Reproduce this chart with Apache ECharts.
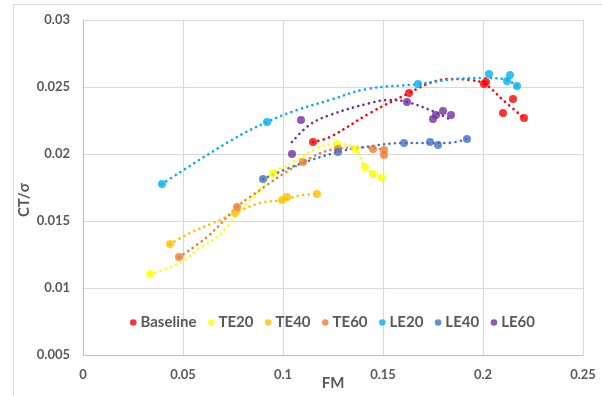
<!DOCTYPE html>
<html>
<head>
<meta charset="utf-8">
<script src="https://cdn.jsdelivr.net/npm/echarts@6/dist/echarts.min.js"></script>
<style>html,body{margin:0;padding:0;background:#fff}#c{width:602px;height:396px}</style>
</head>
<body>
<div id="c"></div>
<script>
// Legend / series names
const seriesNames = ['Baseline', 'TE20', 'TE40', 'TE60', 'LE20', 'LE40', 'LE60'];
const seriesColors = ['#FF0000', '#FFFF00', '#FFC000', '#ED7D31', '#00B0F0', '#4472C4', '#7030A0'];

// Measured points [FM, CT/sigma]
const baseline = [[0.115,0.0209],[0.163,0.02455],[0.2005,0.02522],[0.2015,0.02537],[0.21,0.02306],[0.215,0.0241],[0.2205,0.02269]];
const te20 = [[0.0335,0.01104],[0.095,0.01858],[0.127,0.02075],[0.136,0.02037],[0.141,0.01903],[0.145,0.01851],[0.1495,0.01821]];
const te40 = [[0.0435,0.01328],[0.076,0.0156],[0.0995,0.01657],[0.102,0.01679],[0.117,0.01701]];
const te60 = [[0.048,0.01231],[0.077,0.01604],[0.11,0.0194],[0.1275,0.02037],[0.145,0.02037],[0.1505,0.0203],[0.1505,0.01993]];
const le20 = [[0.0395,0.01776],[0.092,0.02239],[0.1675,0.02522],[0.203,0.02597],[0.212,0.02545],[0.2135,0.0259],[0.217,0.02507]];
const le40 = [[0.09,0.01813],[0.1275,0.02015],[0.1605,0.02082],[0.1735,0.0209],[0.1775,0.02067],[0.192,0.02112]];
const le60 = [[0.109,0.02254],[0.1045,0.0200],[0.162,0.02388],[0.175,0.02261],[0.1765,0.02291],[0.18,0.02321],[0.184,0.02291]];

// Trendline points
const baselineTrend = [[0.115,0.0209],[0.1235,0.02127],[0.1435,0.02306],[0.163,0.02455],[0.1735,0.0253],[0.1835,0.0256],[0.1935,0.02552],[0.201,0.02522],[0.21,0.02403],[0.2205,0.02269]];
const te20Trend = [[0.0335,0.01104],[0.0485,0.01187],[0.057,0.01284],[0.067,0.01381],[0.0735,0.01485],[0.082,0.01634],[0.0885,0.01731],[0.095,0.01858],[0.107,0.01955],[0.117,0.02045],[0.127,0.02075],[0.136,0.02037],[0.141,0.01903],[0.145,0.01851],[0.1495,0.01821]];
const te40Trend = [[0.0435,0.01328],[0.0535,0.0141],[0.065,0.01485],[0.076,0.0156],[0.0885,0.01634],[0.0995,0.01657],[0.1085,0.0169],[0.117,0.01701]];
const te60Trend = [[0.048,0.01231],[0.062,0.01381],[0.077,0.01604],[0.0835,0.0168],[0.11,0.0194],[0.1275,0.0204],[0.142,0.0205],[0.1505,0.0203]];
const le20Trend = [[0.0395,0.01776],[0.0735,0.02097],[0.092,0.02239],[0.107,0.02328],[0.1235,0.02403],[0.142,0.02485],[0.1675,0.02522],[0.187,0.0256],[0.2,0.02567],[0.21,0.0256],[0.217,0.02507]];
const le40Trend = [[0.09,0.01813],[0.107,0.01918],[0.1275,0.02015],[0.141,0.02052],[0.1605,0.02082],[0.182,0.02082],[0.192,0.02112]];
const le60Trend = [[0.1045,0.0209],[0.1135,0.0222],[0.1235,0.02291],[0.1435,0.0238],[0.1535,0.02403],[0.162,0.02388],[0.1735,0.02328],[0.184,0.02254]];

// Axis ticks
const xTicks = [0, 0.05, 0.1, 0.15, 0.2, 0.25];
const yTicks = [0.005, 0.01, 0.015, 0.02, 0.025, 0.03];

const points = [baseline, te20, te40, te60, le20, le40, le60];
const trends = [baselineTrend, te20Trend, te40Trend, te60Trend, le20Trend, le40Trend, le60Trend];

const txt = '#595959';
const font = 'Lato, "Open Sans", sans-serif';

const series = [];
trends.forEach((t, i) => {
  series.push({
    name: seriesNames[i] + ' trend', type: 'line', data: t, smooth: 0.4,
    showSymbol: false, silent: true, z: 2,
    lineStyle: { color: seriesColors[i], width: 2.6, type: [0.1, 5.4], cap: 'round' }
  });
});
points.forEach((p, i) => {
  series.push({
    name: seriesNames[i], type: 'scatter', data: p, symbol: 'circle', symbolSize: 8, z: 3,
    itemStyle: { color: seriesColors[i] }
  });
});

const chart = echarts.init(document.getElementById('c'), null, { renderer: 'canvas' });
chart.setOption({
  animation: false,
  backgroundColor: '#fff',
  grid: { left: 83, top: 20, right: 19, bottom: 41, containLabel: false },
  xAxis: {
    type: 'value', min: xTicks[0], max: xTicks[xTicks.length - 1], interval: 0.05,
    axisLine: { show: true, lineStyle: { color: '#BFBFBF' } },
    axisTick: { show: false },
    splitLine: { show: true, lineStyle: { color: '#D9D9D9', width: 1.2 } },
    axisLabel: { color: txt, fontFamily: font, fontWeight: 'bold', fontSize: 13, margin: 13, showMaxLabel: true, showMinLabel: true }
  },
  yAxis: {
    type: 'value', min: yTicks[0], max: yTicks[yTicks.length - 1], interval: 0.005,
    axisLine: { show: true, lineStyle: { color: '#BFBFBF' } },
    axisTick: { show: false },
    splitLine: { show: true, lineStyle: { color: '#D9D9D9', width: 1.2 } },
    axisLabel: { color: txt, fontFamily: font, fontWeight: 'bold', fontSize: 13, margin: 13 }
  },
  legend: {
    data: seriesNames.map(n => ({ name: n, icon: 'circle' })),
    left: 125, top: 310, itemWidth: 6.5, itemHeight: 6.5, itemGap: 11.5,
    textStyle: { color: txt, fontFamily: font, fontWeight: 'bold', fontSize: 15, padding: [0, 0, 0, -1] }
  },
  graphic: [
    { type: 'rect', shape: { x: 13.5, y: 4.5, width: 600, height: 400 }, style: { fill: 'none', stroke: '#D9D9D9', lineWidth: 1 }, silent: true, z: -1 },
    { type: 'text', x: 333, y: 383, style: { text: 'FM', fill: txt, font: 'bold 15px ' + font, textAlign: 'center', textVerticalAlign: 'middle' } },
    { type: 'text', x: 24, y: 200, rotation: Math.PI / 2, style: { text: 'CT/σ', fill: txt, font: 'bold 15px ' + font, textAlign: 'center', textVerticalAlign: 'middle' } }
  ],
  series: series
});
</script>
</body>
</html>
